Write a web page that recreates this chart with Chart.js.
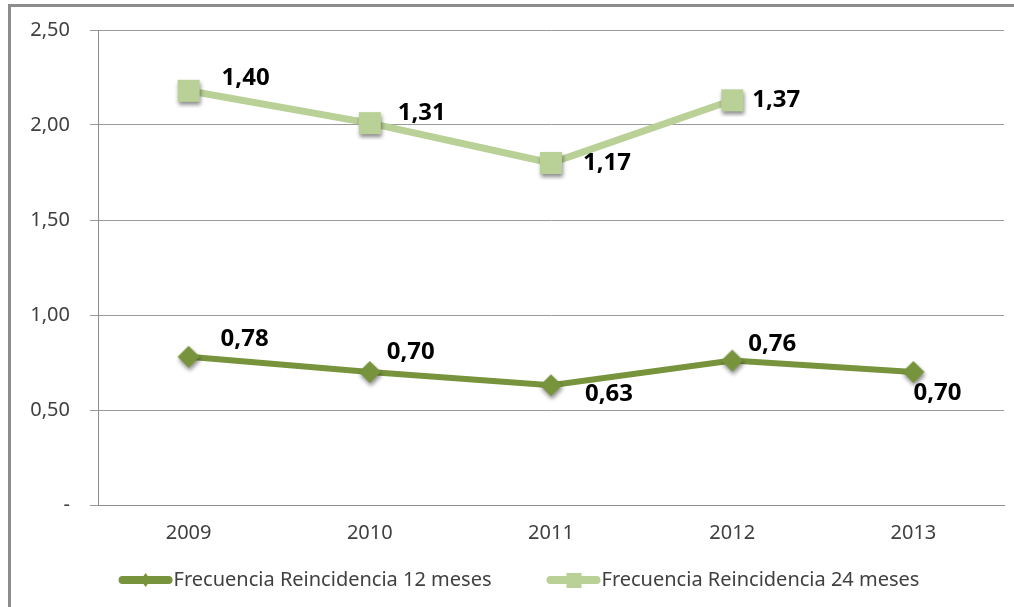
<!DOCTYPE html>
<html>
<head>
<meta charset="utf-8">
<script src="https://cdn.jsdelivr.net/npm/chart.js@4/dist/chart.umd.min.js"></script>
<style>
  html, body { margin: 0; padding: 0; background: #fff; overflow: hidden; }
  #wrap { position: relative; width: 1014px; height: 607px; overflow: hidden; }
  #chart { position: absolute; left: 0; top: 0; }
  #frame {
    position: absolute; left: 8px; top: 4px; right: -10px; bottom: -10px;
    border-left: 3px solid #8c8c8c; border-top: 3px solid #8c8c8c;
    pointer-events: none;
  }
</style>
</head>
<body>
<div id="wrap">
  <canvas id="chart" width="1027" height="607"></canvas>
  <div id="frame"></div>
</div>
<script>
const years = ['2009', '2010', '2011', '2012', '2013'];
const freq12 = [0.78, 0.70, 0.63, 0.76, 0.70];
const freq24 = [1.40, 1.31, 1.17, 1.37, null];
const seriesNames = ['Frecuencia Reincidencia 12 meses', 'Frecuencia Reincidencia 24 meses'];
const yTicks = [0, 0.5, 1, 1.5, 2, 2.5];

const dark = '#77933c';
const light = '#b9d096';

// where each value label sits next to its point (dx, dy)
const labelOffsets = [
    [[32, -18], [17, -20], [34, 9], [16, -16], [0, 21]],
    [[33, -13], [28, -10], [32, 0], [20, 0], [0, 0]]
];

const fmt = v => v === 0 ? '-' : v.toFixed(2).replace('.', ',');

// marker images with a soft drop shadow, like the original
function marker(color, kind) {
    const c = document.createElement('canvas');
    c.width = 34; c.height = 34;
    const g = c.getContext('2d');
    g.shadowColor = 'rgba(0,0,0,0.45)';
    g.shadowBlur = 4;
    g.shadowOffsetX = 1;
    g.shadowOffsetY = 3;
    g.fillStyle = color;
    if (kind === 'square') {
        g.fillRect(6, 6, 22, 22);
    } else {
        g.beginPath();
        g.moveTo(17, 6); g.lineTo(28, 17); g.lineTo(17, 28); g.lineTo(6, 17);
        g.closePath(); g.fill();
    }
    return c;
}

const valueLabels = {
    id: 'valueLabels',
    afterDatasetsDraw(chart) {
        const ctx = chart.ctx;
        ctx.save();
        ctx.font = 'bold 24px "Noto Sans"';
        ctx.fillStyle = '#000';
        ctx.textAlign = 'left';
        ctx.textBaseline = 'middle';
        chart.data.datasets.forEach((ds, i) => {
            chart.getDatasetMeta(i).data.forEach((pt, j) => {
                const v = ds.data[j];
                if (v === null || v === undefined) return;
                const off = labelOffsets[i][j];
                ctx.fillText(fmt(v), pt.x + off[0], pt.y + off[1]);
            });
        });
        ctx.restore();
    }
};

// legend drawn by hand: line + marker, then text
const lineLegend = {
    id: 'lineLegend',
    afterDraw(chart) {
        const ctx = chart.ctx;
        ctx.save();
        ctx.font = '20px "Noto Sans"';
        ctx.textBaseline = 'middle';
        const iconW = 54, gap = 1, spacing = 55;
        const items = chart.data.datasets.map(ds => ({ ds, w: iconW + gap + ctx.measureText(ds.label).width }));
        const total = items.reduce((a, it) => a + it.w, 0) + spacing * (items.length - 1);
        let x = 519 - total / 2;
        const y = 580;
        items.forEach((it, i) => {
            const c = it.ds.borderColor;
            ctx.strokeStyle = c;
            ctx.lineWidth = 8;
            ctx.lineCap = 'round';
            ctx.beginPath(); ctx.moveTo(x + 4, y); ctx.lineTo(x + iconW - 4, y); ctx.stroke();
            ctx.fillStyle = c;
            const mx = x + iconW / 2;
            if (i === 0) {
                ctx.beginPath();
                ctx.moveTo(mx, y - 7); ctx.lineTo(mx + 5, y); ctx.lineTo(mx, y + 7); ctx.lineTo(mx - 5, y);
                ctx.closePath(); ctx.fill();
            } else {
                ctx.fillRect(mx - 7, y - 7, 15, 15);
            }
            ctx.fillStyle = '#404040';
            ctx.fillText(it.ds.label, x + iconW + gap, y);
            x += it.w + spacing;
        });
        ctx.restore();
    }
};

new Chart(document.getElementById('chart').getContext('2d'), {
    type: 'line',
    data: {
        labels: years,
        datasets: [
            {
                label: seriesNames[0],
                data: freq12,
                borderColor: dark,
                backgroundColor: dark,
                borderWidth: 6,
                pointStyle: marker(dark, 'diamond'),
                pointRadius: 11,
                pointHoverRadius: 11,
                tension: 0,
                stack: 's'
            },
            {
                label: seriesNames[1],
                data: freq24,
                borderColor: light,
                backgroundColor: light,
                borderWidth: 7,
                pointStyle: marker(light, 'square'),
                pointRadius: 16,
                pointHoverRadius: 16,
                tension: 0,
                stack: 's'
            }
        ]
    },
    options: {
        responsive: false,
        animation: false,
        layout: { padding: { top: 30, right: 11, left: 0, bottom: 57 } },
        plugins: {
            tooltip: { enabled: false },
            legend: { display: false }
        },
        scales: {
            x: {
                offset: true,
                grid: { display: false, drawTicks: false },
                border: { color: '#8c8c8c', width: 1 },
                ticks: { color: '#404040', font: { family: '"Noto Sans"', size: 20 }, padding: 16 },
                afterFit: s => { s.height = 45; }
            },
            y: {
                stacked: true,
                min: 0, max: 2.5,
                afterBuildTicks: s => { s.ticks = yTicks.map(v => ({ value: v })); },
                grid: { color: '#9a9a9a', lineWidth: 1, tickLength: 8 },
                border: { color: '#8c8c8c', width: 1 },
                ticks: {
                    color: '#404040',
                    font: { family: '"Noto Sans"', size: 20 },
                    padding: 20,
                    callback: v => fmt(v)
                },
                afterFit: s => { s.width = 98; s.paddingTop = 0; s.paddingBottom = 0; }
            }
        }
    },
    plugins: [valueLabels, lineLegend]
});
</script>
</body>
</html>
